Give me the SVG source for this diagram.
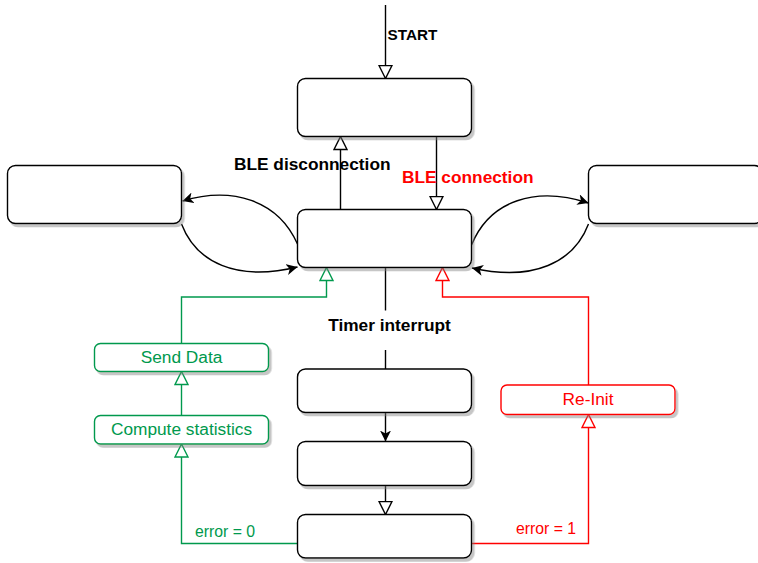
<svg xmlns="http://www.w3.org/2000/svg" width="758" height="563" viewBox="0 0 758 563">
  <style>
    .box { fill: #ffffff; stroke: #000000; stroke-width: 1.4; filter: url(#shadow); }
    .box-g { fill: #ffffff; stroke: #00994D; stroke-width: 1.4; filter: url(#shadow); }
    .box-r { fill: #ffffff; stroke: #FF0000; stroke-width: 1.4; filter: url(#shadow); }
    .edge { fill: none; stroke: #000000; stroke-width: 1.4; }
    .edge-g { fill: none; stroke: #00994D; stroke-width: 1.4; }
    .edge-r { fill: none; stroke: #FF0000; stroke-width: 1.4; }
    .lbl-b { font-family: "Liberation Sans", Arial, sans-serif; font-weight: bold; fill: #000000; }
    .lbl { font-family: "Liberation Sans", Arial, sans-serif; }
  </style>
  <defs>
    <filter id="shadow" x="-10%" y="-20%" width="125%" height="150%">
      <feDropShadow dx="2.5" dy="3" stdDeviation="0.5" flood-color="#808080" flood-opacity="0.45"/>
    </filter>
    <marker id="open-k" viewBox="-1 -1 16 15" markerWidth="16" markerHeight="15" refX="13" refY="6.5" orient="auto" markerUnits="userSpaceOnUse">
      <path d="M0,0 L13,6.5 L0,13 Z" fill="#ffffff" stroke="#000000" stroke-width="1.4"/>
    </marker>
    <marker id="open-g" viewBox="-1 -1 16 15" markerWidth="16" markerHeight="15" refX="13" refY="6.5" orient="auto" markerUnits="userSpaceOnUse">
      <path d="M0,0 L13,6.5 L0,13 Z" fill="#ffffff" stroke="#00994D" stroke-width="1.4"/>
    </marker>
    <marker id="open-r" viewBox="-1 -1 16 15" markerWidth="16" markerHeight="15" refX="13" refY="6.5" orient="auto" markerUnits="userSpaceOnUse">
      <path d="M0,0 L13,6.5 L0,13 Z" fill="#ffffff" stroke="#FF0000" stroke-width="1.4"/>
    </marker>
    <marker id="solid-k" viewBox="0 0 12 11" markerWidth="12" markerHeight="11" refX="11" refY="5.5" orient="auto" markerUnits="userSpaceOnUse">
      <path d="M0,0 L11,5.5 L0,11 L3,5.5 Z" fill="#000000"/>
    </marker>
  </defs>

  <!-- connectors -->
  <g id="connectors">
    <!-- entry -->
    <line class="edge" x1="385.5" y1="5" x2="385.5" y2="78.5" marker-end="url(#open-k)"/>
    <!-- init -> idle -->
    <line class="edge" x1="436.5" y1="136.5" x2="436.5" y2="209.5" marker-end="url(#open-k)"/>
    <!-- idle -> init -->
    <line class="edge" x1="340.5" y1="209.5" x2="340.5" y2="136.5" marker-end="url(#open-k)"/>
    <!-- side loops -->
    <path class="edge" d="M297.5,244 C278,200 232,186 182.5,201" marker-end="url(#solid-k)"/>
    <path class="edge" d="M181.5,224 C196,262 236,282 297.5,267" marker-end="url(#solid-k)"/>
    <path class="edge" d="M471.5,245 C490,200 536,186 588.5,203" marker-end="url(#solid-k)"/>
    <path class="edge" d="M588.5,224 C574,262 534,282 472,268" marker-end="url(#solid-k)"/>
    <!-- timer -->
    <line class="edge" x1="385.5" y1="267.5" x2="385.5" y2="310.5"/>
    <line class="edge" x1="385.5" y1="350" x2="385.5" y2="369"/>
    <line class="edge" x1="385.5" y1="412.5" x2="385.5" y2="441.5" marker-end="url(#solid-k)"/>
    <line class="edge" x1="385.5" y1="485.5" x2="385.5" y2="514.5" marker-end="url(#open-k)"/>
    <!-- error = 0 branch -->
    <path class="edge-g" d="M297.5,543.5 H181.5 V444" marker-end="url(#open-g)"/>
    <line class="edge-g" x1="181.5" y1="415.5" x2="181.5" y2="371.5" marker-end="url(#open-g)"/>
    <path class="edge-g" d="M181.5,343.5 V297 H326.5 V267.5" marker-end="url(#open-g)"/>
    <!-- error = 1 branch -->
    <path class="edge-r" d="M471.5,543.5 H588.5 V414.5" marker-end="url(#open-r)"/>
    <path class="edge-r" d="M588.5,385 V297 H442.5 V267.5" marker-end="url(#open-r)"/>

    <text class="lbl-b" x="387.5" y="40" font-size="15.3">START</text>
    <text class="lbl-b" x="234" y="170" font-size="17.3">BLE disconnection</text>
    <text class="lbl-b" x="402" y="183" font-size="17.3" style="fill:#FF0000">BLE connection</text>
    <text class="lbl-b" x="389.5" y="331" font-size="17.3" text-anchor="middle">Timer interrupt</text>
    <text class="lbl" x="195" y="537" font-size="15.8" fill="#00994D">error = 0</text>
    <text class="lbl" x="516" y="534" font-size="15.8" fill="#FF0000">error = 1</text>
  </g>

  <!-- states -->
  <g id="init">
    <rect class="box" x="297.5" y="78.5" width="174" height="58" rx="8"/>
  </g>
  <g id="idle">
    <rect class="box" x="297.5" y="209.5" width="174" height="58" rx="8"/>
  </g>
  <g id="left-state">
    <rect class="box" x="7.5" y="165.5" width="174" height="58" rx="8"/>
  </g>
  <g id="right-state">
    <rect class="box" x="588.5" y="165.5" width="174" height="58" rx="8"/>
  </g>
  <g id="step1">
    <rect class="box" x="297.5" y="369" width="174" height="43.5" rx="8"/>
  </g>
  <g id="step2">
    <rect class="box" x="297.5" y="441.5" width="174" height="44" rx="8"/>
  </g>
  <g id="step3">
    <rect class="box" x="297.5" y="514.5" width="174" height="43.5" rx="8"/>
  </g>
  <g id="send-data">
    <rect class="box-g" x="94.5" y="343.5" width="174" height="28" rx="6"/>
    <text class="lbl" x="181.5" y="362.5" font-size="17.3" text-anchor="middle" fill="#00994D">Send Data</text>
  </g>
  <g id="compute-statistics">
    <rect class="box-g" x="94.5" y="415.5" width="174" height="28.5" rx="6"/>
    <text class="lbl" x="181.5" y="435" font-size="17.3" text-anchor="middle" fill="#00994D">Compute statistics</text>
  </g>
  <g id="re-init">
    <rect class="box-r" x="501" y="385" width="174" height="29.5" rx="6"/>
    <text class="lbl" x="588" y="404.5" font-size="17.3" text-anchor="middle" fill="#FF0000">Re-Init</text>
  </g>
</svg>
